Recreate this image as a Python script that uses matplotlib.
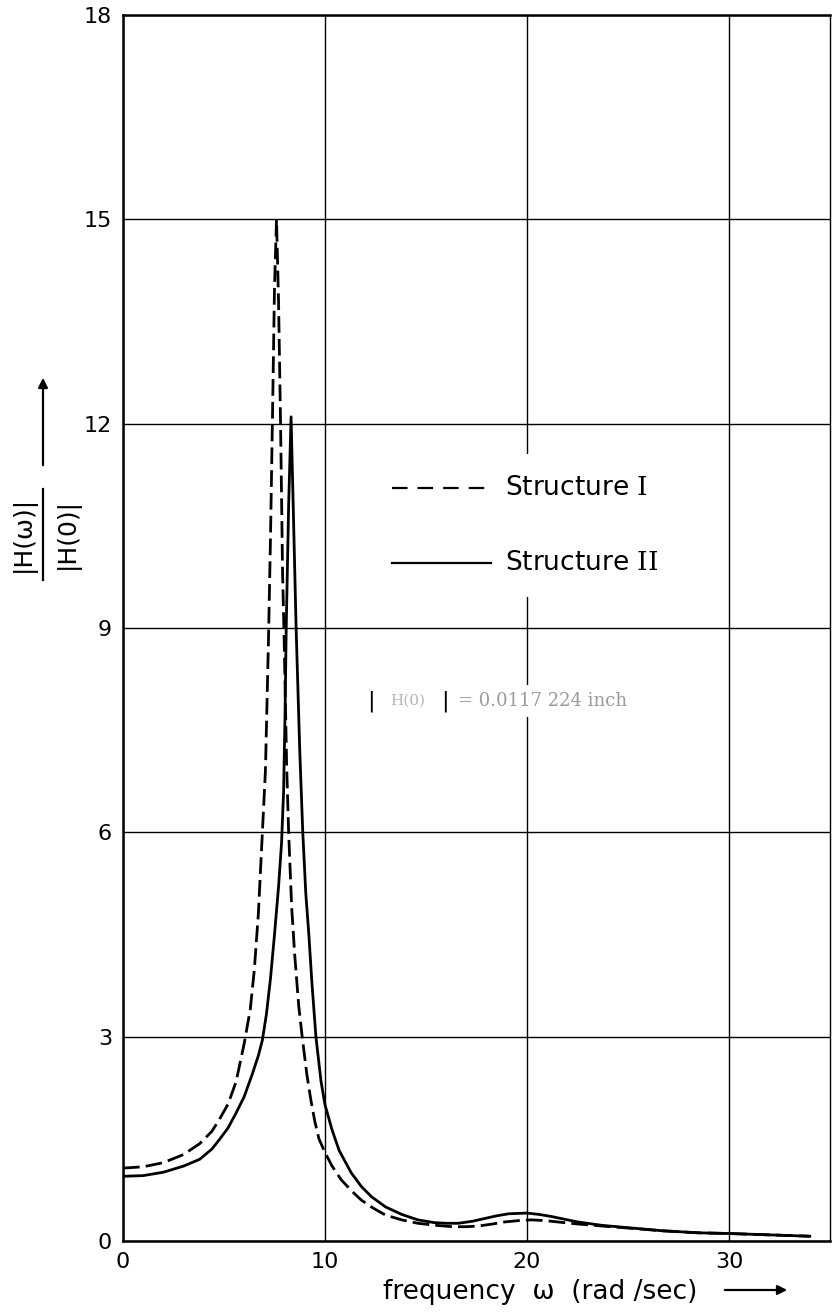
import matplotlib
matplotlib.use("Agg")
import matplotlib.pyplot as plt
from matplotlib.lines import Line2D
from matplotlib.patches import FancyArrowPatch, Rectangle

plt.rcParams['font.family'] = ['DejaVu Sans']
plt.rcParams['mathtext.fontset'] = 'dejavuserif'

# ---- data ----
s1_x = [0, 1, 2, 3, 3.8, 4.4, 4.8, 5.2, 5.6, 6.0, 6.3, 6.5, 6.7, 6.9, 7.05, 7.2,
        7.3, 7.4, 7.5, 7.6, 7.7, 7.8, 7.9, 7.98, 8.1, 8.2, 8.35, 8.5, 8.7, 8.87,
        9.1, 9.3, 9.5, 9.7, 10.0, 10.35, 10.8, 11.3, 11.8, 12.4, 13.0, 13.8,
        14.6, 15.5, 16.3, 17.0, 17.6, 18.3, 18.9, 19.6, 20.2, 20.9, 21.5, 22.5,
        23.7, 25.0, 26.7, 28.5, 30.0, 31.5, 34.0]
s1_y = [1.07, 1.09, 1.15, 1.27, 1.43, 1.61, 1.8, 2.01, 2.34, 2.9, 3.4, 3.98, 4.8,
        6.0, 6.9, 8.8, 10.3, 12.1, 14.0, 15.0, 13.8, 12.0, 9.8, 8.8, 7.0, 6.0,
        4.9, 4.2, 3.45, 3.0, 2.45, 2.07, 1.75, 1.5, 1.3, 1.1, 0.9, 0.74, 0.6,
        0.48, 0.38, 0.31, 0.26, 0.23, 0.21, 0.21, 0.22, 0.25, 0.28, 0.30, 0.31,
        0.30, 0.28, 0.25, 0.22, 0.19, 0.15, 0.12, 0.11, 0.095, 0.07]

s2_x = [0, 1, 2, 3, 3.8, 4.4, 4.8, 5.2, 5.6, 6.0, 6.4, 6.7, 6.9, 7.1, 7.3, 7.5,
        7.7, 7.85, 7.95, 8.02, 8.08, 8.2, 8.32, 8.45, 8.57, 8.75, 8.9, 9.05, 9.2,
        9.35, 9.55, 9.8, 10.0, 10.35, 10.7, 11.3, 11.8, 12.3, 13.0, 13.8, 14.6,
        15.4, 16.0, 16.6, 17.3, 17.9, 18.5, 19.1, 20.0, 20.6, 21.2, 22.5, 23.7,
        25.2, 26.7, 28.5, 30.0, 31.5, 34.0]
s2_y = [0.95, 0.96, 1.01, 1.1, 1.2, 1.35, 1.5, 1.66, 1.88, 2.12, 2.45, 2.72, 2.95,
        3.33, 3.85, 4.5, 5.2, 5.85, 6.6, 7.7, 9.0, 10.8, 12.1, 10.5, 9.0, 7.2,
        6.0, 5.1, 4.5, 3.8, 3.0, 2.35, 2.0, 1.63, 1.33, 1.0, 0.8, 0.65, 0.5, 0.39,
        0.31, 0.27, 0.26, 0.26, 0.29, 0.33, 0.37, 0.40, 0.41, 0.39, 0.36, 0.28,
        0.23, 0.19, 0.15, 0.12, 0.11, 0.095, 0.07]

x_ticks = [0, 10, 20, 30]
y_ticks = [0, 3, 6, 9, 12, 15, 18]
series_labels = ["Structure $\\mathrm{I}$", "Structure $\\mathrm{II}$"]

W, H = 833, 1314
fig = plt.figure(figsize=(W / 100, H / 100), dpi=100)
ax = fig.add_axes([123 / W, 73 / H, 707 / W, 1226 / H])

ax.set_xlim(0, 35)
ax.set_ylim(0, 18)
ax.set_xticks(x_ticks)
ax.set_yticks(y_ticks)
ax.set_xticklabels([str(v) for v in x_ticks], fontsize=16)
ax.set_yticklabels([str(v) for v in y_ticks], fontsize=16)
ax.tick_params(length=0, pad=8)
ax.grid(True, color='black', lw=1.0, zorder=0)
for s in ax.spines.values():
    s.set_linewidth(1.8)
ax.spines['right'].set_linewidth(1.0)

ax.plot(s1_x, s1_y, color='black', lw=2.0, dashes=(6, 2.2), zorder=3)
ax.plot(s2_x, s2_y, color='black', lw=2.0, zorder=3)

# white area behind the legend (breaks the x=20 grid line as in the original)
ax.add_patch(Rectangle((18.7, 9.45), 8.0, 2.1, facecolor='white', edgecolor='none', zorder=2))

# legend drawn in the plot
ax.plot([13.3, 18.2], [11.05, 11.05], color='black', lw=1.6, dashes=(7, 4.5), zorder=5)
ax.plot([13.3, 18.2], [9.96, 9.96], color='black', lw=1.6, zorder=5)
for yv, lab in zip([11.05, 9.96], series_labels):
    ax.text(18.9, yv, lab, fontsize=19, va='center', ha='left', zorder=4)

# faint annotation
ax.text(12.27, 7.93, "|", fontsize=16, va='center', ha='center', color='black', zorder=5)
ax.text(15.96, 7.93, "|", fontsize=16, va='center', ha='center', color='black', zorder=5)
ax.text(14.1, 7.93, "H(0)", fontsize=11, va='center', ha='center', color='#b5b5b5',
        family='DejaVu Serif', zorder=4)
ax.text(16.6, 7.93, "= 0.0117 224 inch", fontsize=13, va='center', ha='left',
        color='#9a9a9a', family='DejaVu Serif', zorder=4,
        bbox=dict(facecolor='white', edgecolor='none', pad=5))

def fx(px):
    return px / W

def fy(py):
    return 1 - py / H

# x label with arrow
fig.text(fx(540), fy(1292), "frequency  ω  (rad /sec)", fontsize=19,
         ha='center', va='center')
fig.add_artist(FancyArrowPatch((fx(722), fy(1290)), (fx(790), fy(1290)),
                               transform=fig.transFigure, arrowstyle='-|>',
                               mutation_scale=14, lw=1.6, color='black'))

# y label: fraction with arrow
fig.text(fx(23), fy(534), "|H(ω)|", fontsize=18, rotation=90, ha='center', va='center')
fig.text(fx(67), fy(534), "|H(0)|", fontsize=18, rotation=90, ha='center', va='center')
fig.add_artist(Line2D([fx(43), fx(43)], [fy(489), fy(580)], transform=fig.transFigure,
                      color='black', lw=1.6))
fig.add_artist(FancyArrowPatch((fx(43), fy(468)), (fx(43), fy(375)),
                               transform=fig.transFigure, arrowstyle='-|>',
                               mutation_scale=14, lw=1.6, color='black'))

fig.savefig("out.png", dpi=100)
